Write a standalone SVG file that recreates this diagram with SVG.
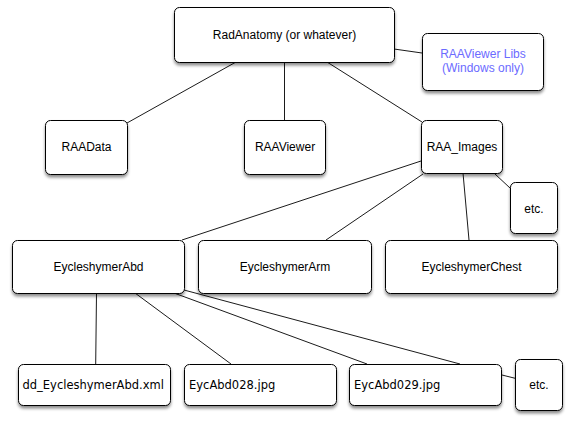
<svg xmlns="http://www.w3.org/2000/svg" width="573" height="425" viewBox="0 0 573 425">
<defs>
<filter id="sh" x="-20%" y="-20%" width="140%" height="160%">
<feDropShadow dx="0" dy="2.5" stdDeviation="1.8" flood-color="#000" flood-opacity="0.45"/>
</filter>
<style>
.box{fill:#fff;stroke:#000;stroke-width:1;filter:url(#sh)}
.t{font-family:"Liberation Sans",Arial,sans-serif;font-size:12px;fill:#000;text-anchor:middle}
.b{font-family:"DejaVu Sans",Verdana,sans-serif;font-size:11.5px;fill:#000}
.blue{fill:#6b6bff}
.c{stroke:#000;stroke-width:0.9;fill:none}
</style>
</defs>
<rect width="573" height="425" fill="#fff"/>
<g id="connectors">
<line class="c" x1="236" y1="62" x2="127" y2="123"/>
<line class="c" x1="284.5" y1="62" x2="284.5" y2="120"/>
<line class="c" x1="327" y1="62" x2="422" y2="122"/>
<line class="c" x1="394" y1="49" x2="422" y2="53"/>
<line class="c" x1="421" y1="161" x2="182" y2="240"/>
<line class="c" x1="423" y1="174" x2="326" y2="240"/>
<line class="c" x1="463" y1="173" x2="469" y2="240"/>
<line class="c" x1="495" y1="174" x2="510" y2="188"/>
<line class="c" x1="96.5" y1="293" x2="95.7" y2="364"/>
<line class="c" x1="135" y1="293" x2="231" y2="364"/>
<line class="c" x1="174" y1="293" x2="367" y2="364"/>
<line class="c" x1="184" y1="290" x2="460" y2="364"/>
<line class="c" x1="502" y1="375" x2="516" y2="378.5"/>
</g>
<g id="root"><rect class="box" x="174.5" y="7.5" width="220" height="55" rx="5"/><text class="t" x="284.5" y="38.5">RadAnatomy (or whatever)</text></g>
<g id="libs"><rect class="box" x="422.5" y="33.5" width="121" height="57" rx="5"/><text class="t blue" x="483" y="57.5">RAAViewer Libs</text><text class="t blue" x="483" y="72">(Windows only)</text></g>
<g id="raadata"><rect class="box" x="45.5" y="120.5" width="82" height="54" rx="5"/><text class="t" x="86.5" y="151">RAAData</text></g>
<g id="raaviewer"><rect class="box" x="244.5" y="120.5" width="81" height="54" rx="5"/><text class="t" x="285" y="151">RAAViewer</text></g>
<g id="raaimages"><rect class="box" x="421.5" y="120.5" width="81" height="53" rx="5"/><text class="t" x="462" y="151">RAA_Images</text></g>
<g id="etc1"><rect class="box" x="510.5" y="182.5" width="47" height="51" rx="5"/><text class="t" x="534" y="213">etc.</text></g>
<g id="abd"><rect class="box" x="12.5" y="240.5" width="172" height="53" rx="5"/><text class="t" x="98.5" y="271">EycleshymerAbd</text></g>
<g id="arm"><rect class="box" x="198.5" y="240.5" width="173" height="53" rx="5"/><text class="t" x="285" y="271">EycleshymerArm</text></g>
<g id="chest"><rect class="box" x="385.5" y="240.5" width="172" height="53" rx="5"/><text class="t" x="471.5" y="271">EycleshymerChest</text></g>
<g id="ddxml"><rect class="box" x="18.5" y="364.5" width="152" height="41" rx="5"/><text class="b" x="22.5" y="389">dd_EycleshymerAbd.xml</text></g>
<g id="eyc028"><rect class="box" x="184.5" y="364.5" width="152" height="41" rx="5"/><text class="b" x="189" y="389">EycAbd028.jpg</text></g>
<g id="eyc029"><rect class="box" x="349.5" y="364.5" width="152" height="41" rx="5"/><text class="b" x="354" y="389">EycAbd029.jpg</text></g>
<g id="etc2"><rect class="box" x="515.5" y="359.5" width="47" height="51" rx="5"/><text class="t" x="539" y="389">etc.</text></g>
</svg>
